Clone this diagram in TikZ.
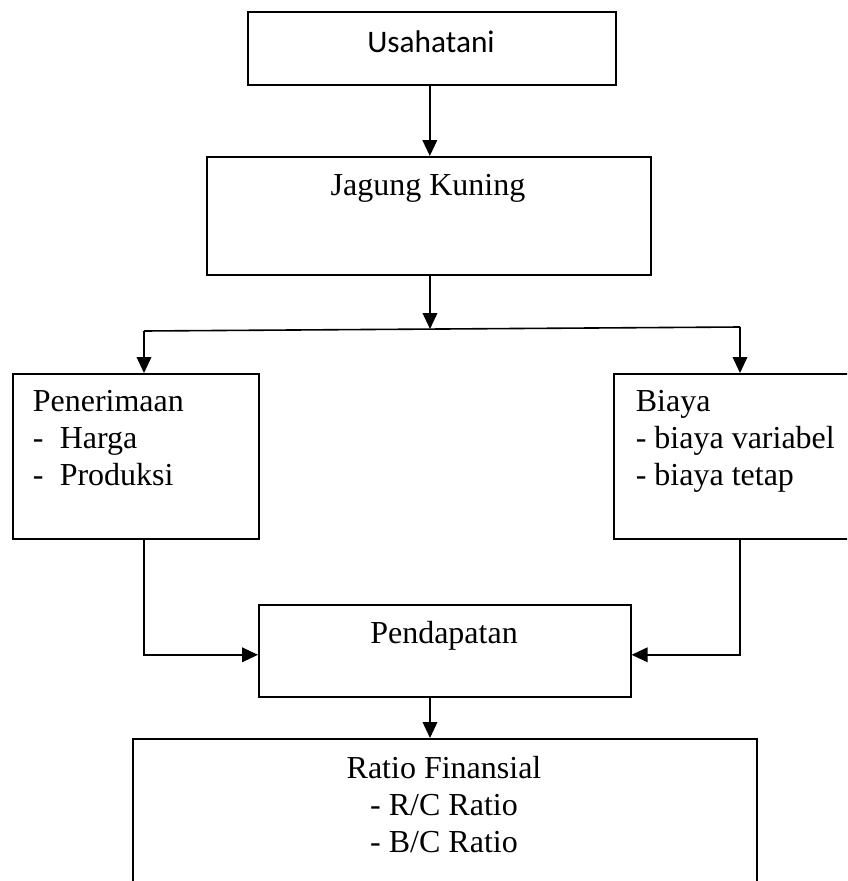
\documentclass[tikz,border=0pt]{standalone}
\usepackage{fontspec}
\setmainfont{Liberation Serif}
\newfontfamily\calibrifont{Carlito}
\usetikzlibrary{arrows.meta}

\begin{document}
\begin{tikzpicture}[x=0.75pt, y=-0.75pt, line width=1.2pt, font=\fontsize{24}{27.6}\selectfont]
\tikzset{box/.style={draw, inner sep=0pt, anchor=north west}}
\tikzset{boxtext/.style={inner sep=0pt, align=left}}
\tikzset{>={Triangle[length=12pt, width=11pt]}}
\clip (0,0) rectangle (847,881);
% boxes
\node[box, minimum width=276pt, minimum height=54.75pt] (usaha) at (247,11) {};
\node[box, minimum width=333pt, minimum height=88.5pt] (jagung) at (206,156) {};
\node[box, minimum width=184.5pt, minimum height=123.75pt] (terima) at (12,373) {};
\node[box, minimum width=185.25pt, minimum height=123.75pt] (biaya) at (613,373) {};
\node[box, minimum width=279pt, minimum height=69pt] (dapat) at (258,604) {};
\node[box, minimum width=468pt, minimum height=150pt] (ratio) at (132,738) {};
% texts (base = last line)
\node[boxtext, anchor=base] (usahaT) at (431,53) {\calibrifont\fontsize{23.5}{27}\selectfont Usahatani};
\node[boxtext, anchor=base] (jagungT) at (428,195) {Jagung Kuning};
\node[boxtext, anchor=base west] (terimaT) at (32,485) {Penerimaan\\\makebox[20.25pt][l]{-}Harga\\\makebox[20.25pt][l]{-}Produksi};
\node[boxtext, anchor=base west] (biayaT) at (635,485) {Biaya\\- biaya variabel\\- biaya tetap};
\node[boxtext, anchor=base] (dapatT) at (444,643) {Pendapatan};
\node[boxtext, anchor=base, align=center] (ratioT) at (444,852) {Ratio Finansial\\- R/C Ratio\\- B/C Ratio};
% branch points
\coordinate (split) at (430,329);
\coordinate (splitL) at (144,331);
\coordinate (splitR) at (740,327);
% connectors
\draw[->] ([xshift=-1.5pt]usaha.south) -- ([xshift=-1.5pt]usaha.south |- jagung.north);
\draw[->] (jagung.south -| split) -- (split);
\draw (splitL) -- (splitR);
\draw[->] (splitL) -- (splitL |- terima.north);
\draw[->] (splitR) -- (splitR |- biaya.north);
\draw[->] (terima.south -| splitL) |- ([yshift=-3pt]dapat.west);
\draw[->] (biaya.south -| splitR) |- ([yshift=-3pt]dapat.east);
\draw[->] (dapat.south -| split) -- (split |- ratio.north);
\end{tikzpicture}
\end{document}
